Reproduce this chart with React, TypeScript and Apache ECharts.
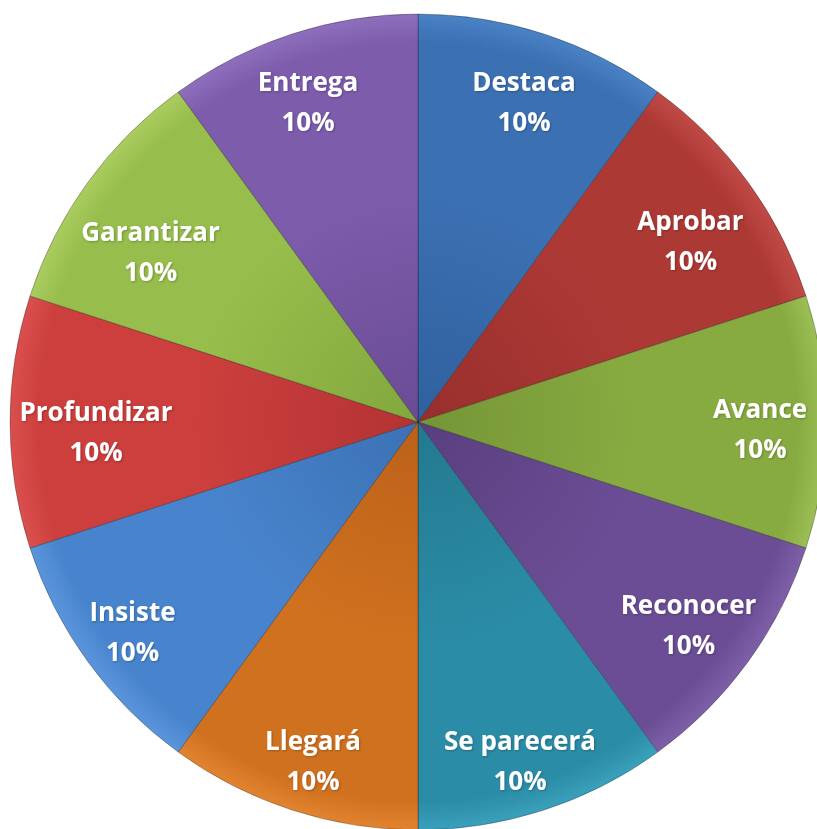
import React, { useEffect, useRef } from "react";
import * as echarts from "echarts";

const categories = [
  "Destaca",
  "Aprobar",
  "Avance",
  "Reconocer",
  "Se parecerá",
  "Llegará",
  "Insiste",
  "Profundizar",
  "Garantizar",
  "Entrega",
];
const values = [10, 10, 10, 10, 10, 10, 10, 10, 10, 10];
const colors = [
  ["#30609e", "#3b70b2", "#4a82c6"],
  ["#982f2c", "#ad3935", "#c04a46"],
  ["#759536", "#88ab41", "#9cbf55"],
  ["#593e7f", "#6b4d95", "#7d60a8"],
  ["#23798f", "#2b8ca7", "#3aa0bb"],
  ["#bb6119", "#d0711f", "#e1832f"],
  ["#3c71b4", "#4884cd", "#5a95dc"],
  ["#b33333", "#cc3f3d", "#da504e"],
  ["#82a83d", "#97bd4c", "#a9cd5f"],
  ["#6a4b94", "#7c5cab", "#8e6fbd"],
];
// label nudges (px) to follow the reference's label placement
const labelOffsets = [
  [0, 5],
  [-5, 20],
  [-1, 6],
  [-7, 0],
  [-4, 12],
  [1, 12],
  [-8, 7],
  [21, 9],
  [10, 31],
  [-4, 5],
];

const CX = 418;
const CY = 422;
const R = 408;

export default function App() {
  const ref = useRef<HTMLDivElement>(null);
  useEffect(() => {
    document.body.style.margin = "0";
    const chart = echarts.init(ref.current!, undefined, { renderer: "svg" });
    const data = categories.map((name, i) => ({
      name,
      value: values[i],
      itemStyle: {
        color: {
          type: "radial",
          x: CX,
          y: CY,
          r: R,
          global: true,
          colorStops: [
            { offset: 0, color: colors[i][0] },
            { offset: 0.55, color: colors[i][1] },
            { offset: 0.93, color: colors[i][1] },
            { offset: 1, color: colors[i][2] },
          ],
        },
      },
    }));
    chart.setOption({
      animation: false,
      backgroundColor: "#ffffff",
      series: [
        {
          type: "pie",
          center: [CX, CY],
          radius: [0, R],
          startAngle: 90,
          clockwise: true,
          silent: true,
          label: { show: false },
          labelLine: { show: false },
          itemStyle: {
            borderColor: "rgba(0,0,0,0.28)",
            borderWidth: 1,
          },
          data,
        },
        {
          type: "pie",
          center: [CX, CY],
          radius: [272, R],
          startAngle: 90,
          clockwise: true,
          silent: true,
          itemStyle: { color: "rgba(0,0,0,0)" },
          label: {
            show: true,
            position: "inside",
            formatter: "{b}\n{d}%",
            color: "#ffffff",
            fontFamily: "Open Sans",
            fontWeight: "bold",
            fontSize: 26,
            lineHeight: 40,
            textShadowColor: "rgba(0,0,0,0.25)",
            textShadowBlur: 2,
            textShadowOffsetX: 1,
            textShadowOffsetY: 1,
          },
          labelLine: { show: false },
          data: categories.map((name, i) => ({
            name,
            value: values[i],
            label: { offset: labelOffsets[i] },
          })),
        },
      ],
    });
    return () => chart.dispose();
  }, []);
  return <div ref={ref} style={{ width: 817, height: 829 }} />;
}
